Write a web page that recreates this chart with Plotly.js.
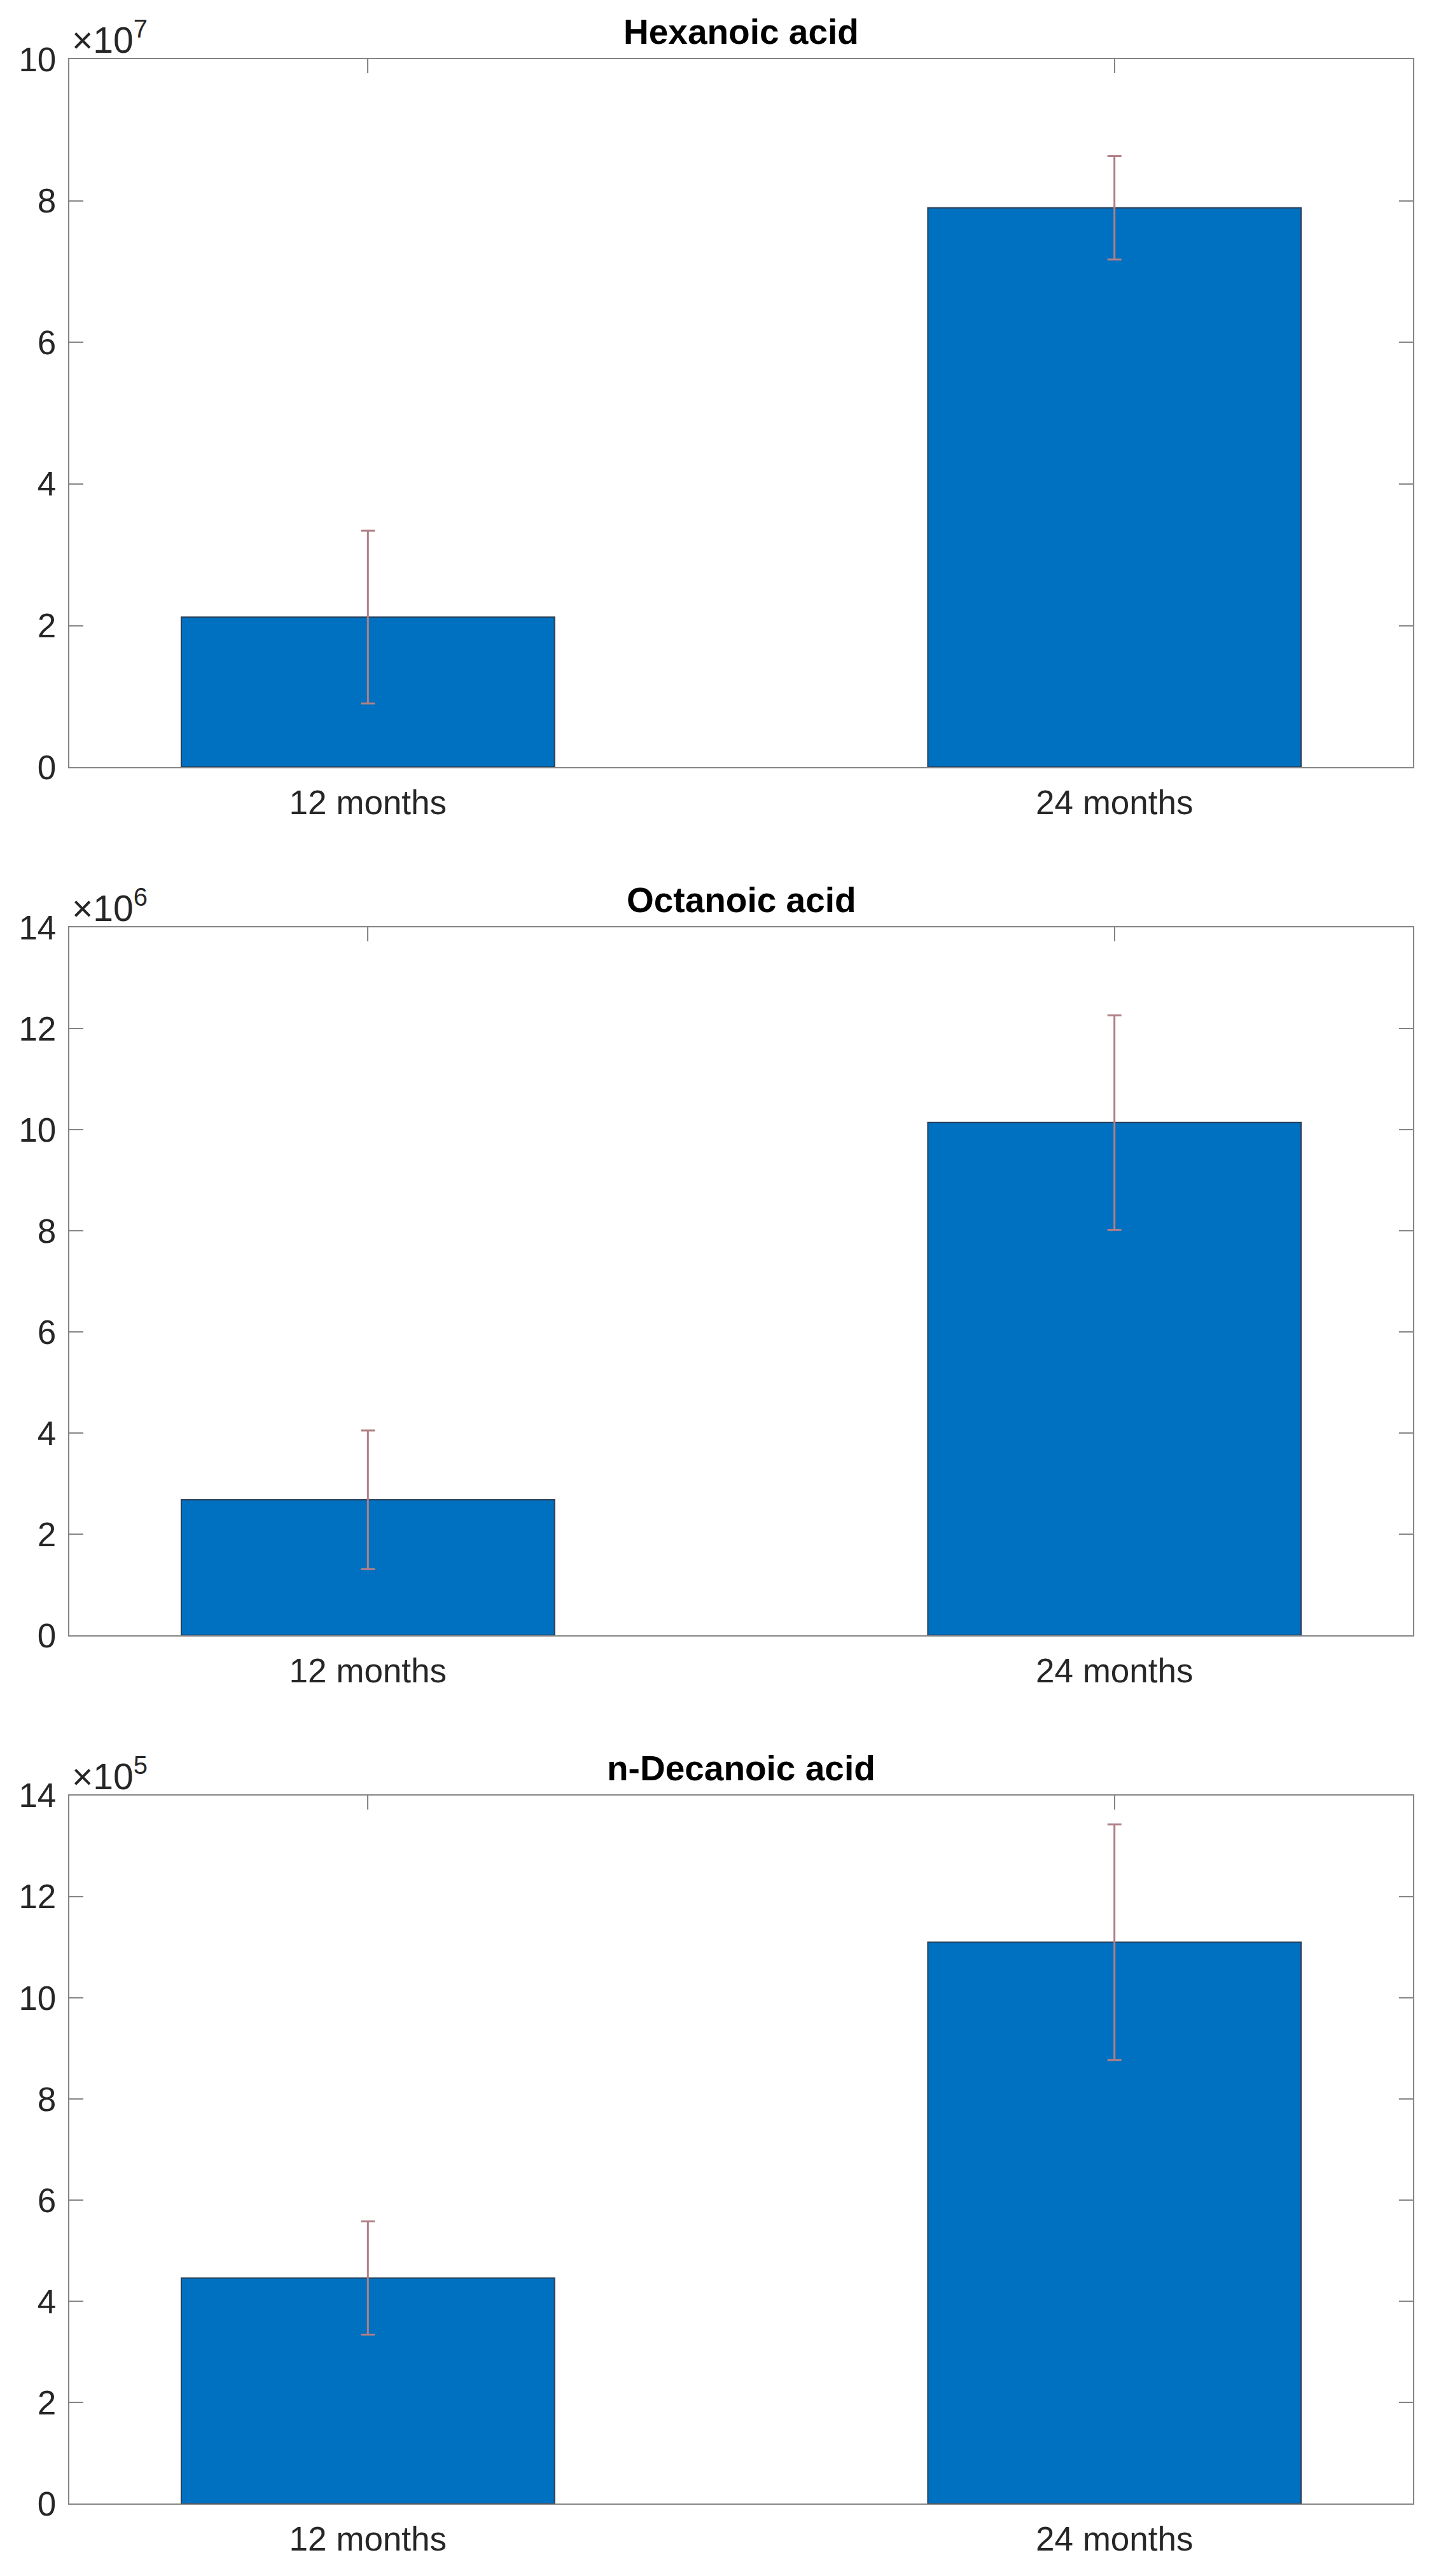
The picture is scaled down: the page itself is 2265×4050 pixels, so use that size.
<!DOCTYPE html>
<html>
<head>
<meta charset="utf-8">
<script src="https://cdn.plot.ly/plotly-3.0.1.min.js"></script>
<style>
  html, body { margin: 0; padding: 0; background: #fff; }
  #chart { width: 2265px; height: 4050px; }
</style>
</head>
<body>
<div id="chart"></div>
<script>
// categories on the x axis
var categories = ["12 months", "24 months"];

// panel titles and the power of ten shown above each y axis
var titles = ["Hexanoic acid", "Octanoic acid", "n-Decanoic acid"];
var exponents = [7, 6, 5];
var yMax = [10, 14, 14];

// bar heights (in units of 10^exponent)
var hexanoic = [2.12, 7.90];
var octanoic = [2.68, 10.14];
var decanoic = [4.46, 11.10];

// error bar half lengths (same units)
var hexanoicErr = [1.22, 0.73];
var octanoicErr = [1.37, 2.12];
var decanoicErr = [1.12, 2.33];

var values = [hexanoic, octanoic, decanoic];
var errors = [hexanoicErr, octanoicErr, decanoicErr];

var font = "Liberation Sans, Arial, Helvetica, sans-serif";
var axisGray = "#858585";
var textGray = "#262626";

// vertical domains of the three panels (paper coords)
var domains = [[0.7022, 0.9770], [0.3652, 0.6400], [0.0281, 0.3030]];
var xDomain = [0.0481, 0.9806];

var data = [];
var layout = {
  width: 2265,
  height: 4050,
  margin: {l: 0, r: 0, t: 0, b: 0},
  paper_bgcolor: "#fff",
  plot_bgcolor: "#fff",
  showlegend: false,
  font: {family: font, color: textGray},
  annotations: []
};

for (var i = 0; i < 3; i++) {
  var n = i === 0 ? "" : String(i + 1);
  data.push({
    type: "bar",
    x: categories,
    y: values[i],
    xaxis: "x" + n,
    yaxis: "y" + n,
    width: 0.5,
    marker: {color: "#0070c0", line: {color: "#2b3f55", width: 2}},
    error_y: {type: "data", array: errors[i], visible: true,
              color: "#b07f86", thickness: 3, width: 11}
  });

  layout["xaxis" + n] = {
    domain: xDomain,
    anchor: "y" + n,
    type: "category",
    range: [-0.4, 1.4],
    showline: true, linecolor: axisGray, linewidth: 2, mirror: "ticks",
    ticks: "inside", ticklen: 22, tickwidth: 2, tickcolor: axisGray,
    showgrid: false, zeroline: false,
    layer: "below traces",
    tickfont: {family: font, size: 53, color: textGray},
    ticklabelstandoff: 8,
    fixedrange: true
  };
  layout["yaxis" + n] = {
    domain: domains[i],
    anchor: "x" + n,
    range: [0, yMax[i]],
    dtick: 2, tick0: 0,
    showline: true, linecolor: axisGray, linewidth: 2, mirror: "ticks",
    ticks: "inside", ticklen: 22, tickwidth: 2, tickcolor: axisGray,
    showgrid: false, zeroline: false,
    layer: "below traces",
    tickfont: {family: font, size: 53, color: textGray},
    ticklabelstandoff: 8,
    fixedrange: true
  };

  // panel title
  layout.annotations.push({
    text: "<b>" + titles[i] + "</b>",
    xref: "paper", yref: "paper",
    x: (xDomain[0] + xDomain[1]) / 2, y: domains[i][1],
    xanchor: "center", yanchor: "bottom", yshift: 10,
    showarrow: false,
    font: {family: font, size: 55, color: "#000"}
  });
  // exponent label
  layout.annotations.push({
    text: "\u00d710<sup>" + exponents[i] + "</sup>",
    xref: "paper", yref: "paper",
    x: xDomain[0], y: domains[i][1],
    xanchor: "left", yanchor: "bottom", xshift: 2, yshift: -4,
    showarrow: false,
    font: {family: font, size: 57, color: textGray}
  });
}

Plotly.newPlot("chart", data, layout, {displayModeBar: false});
</script>
</body>
</html>
